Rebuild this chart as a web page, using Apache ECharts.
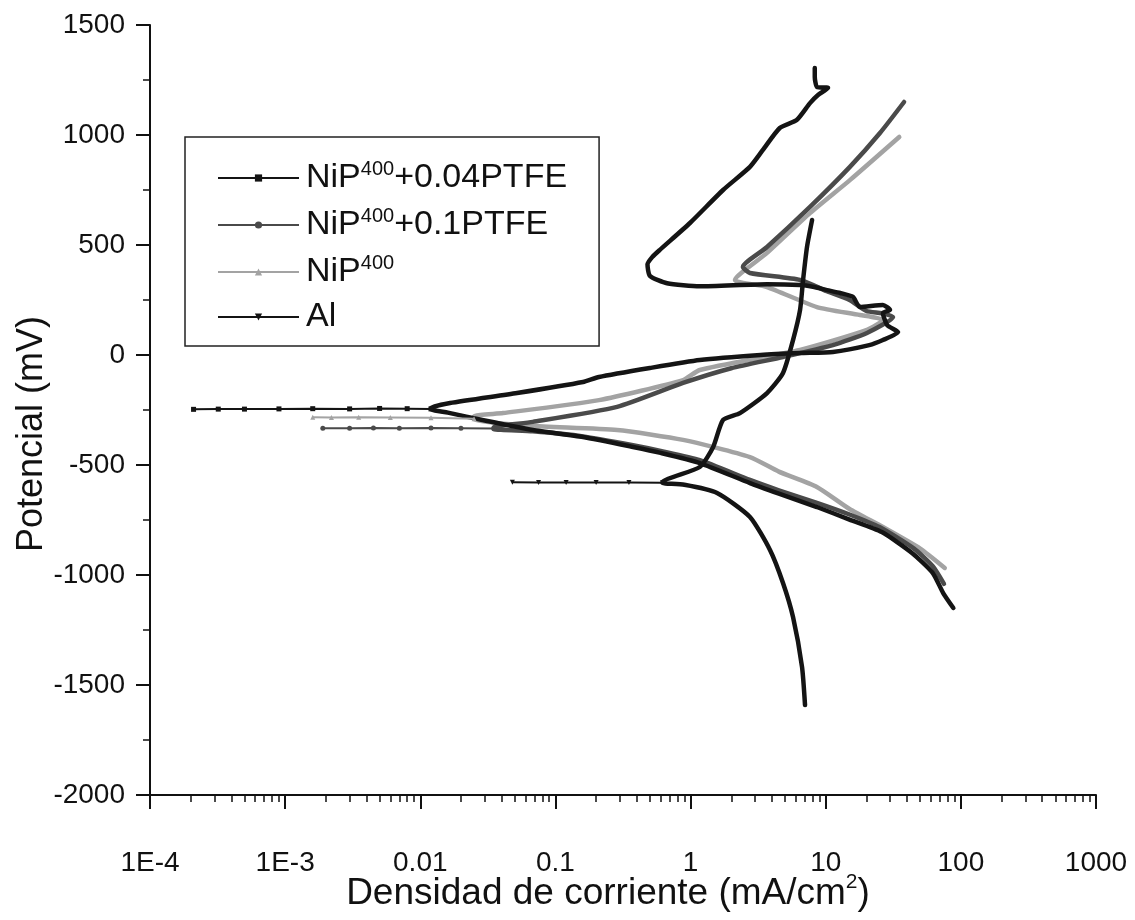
<!DOCTYPE html>
<html>
<head>
<meta charset="utf-8">
<title>Curvas de polarización</title>
<script src="https://cdn.jsdelivr.net/npm/echarts@6/dist/echarts.min.js"></script>
<style>
  html, body { margin: 0; padding: 0; background: #fff; }
  #chart { width: 1135px; height: 920px; }
</style>
</head>
<body>
<div id="chart"></div>
<script>
    // [corriente mA/cm2, potencial mV] leidos de la figura
    // cada curva: rama catodica (desde el extremo), cola en Ecorr, rama anodica
    const ptfe004Cath = [[88, -1150], [74, -1082], [62, -991], [43.5, -900], [26, -805], [15, -748], [8.6, -691], [4.5, -630], [2.75, -582], [1.17, -491], [0.6, -445], [0.375, -418], [0.16, -373], [0.068, -341], [0.03, -298], [0.016, -262], [0.012, -247]];
    const ptfe004Tail = [[0.012, -245], [0.008, -244], [0.005, -243], [0.003, -245], [0.0016, -244], [0.0009, -245], [0.0005, -246], [0.00032, -246], [0.00021, -247]];
    const ptfe004Anod = [[0.012, -240], [0.0166, -218], [0.052, -173], [0.16, -123], [0.21, -100], [0.5, -59], [1.17, -23], [3.3, 0], [6.46, 9], [11.3, 14], [21, 45], [26.5, 68], [34.3, 104], [28.5, 136], [26.5, 191], [29.9, 205], [26.5, 227], [17.9, 218], [15.9, 264], [12.8, 282], [10.2, 295], [8.05, 310], [6.46, 318], [3.68, 322], [1.17, 312], [0.67, 326], [0.5, 360], [0.48, 412], [0.52, 445], [0.59, 477], [0.99, 600], [1.74, 750], [2.75, 855], [3.43, 932], [4.57, 1032], [6.1, 1068], [7.65, 1145], [8.77, 1182], [10.4, 1214], [8.63, 1218], [8.3, 1264], [8.3, 1305]];

    const ptfe01Cath = [[75, -1040], [62, -960], [45, -880], [25, -782], [15, -725], [8.6, -672], [4.5, -615], [2.75, -568], [1.17, -478], [0.6, -436], [0.375, -410], [0.16, -370], [0.068, -347], [0.035, -337]];
    const ptfe01Tail = [[0.035, -334], [0.02, -333], [0.012, -332], [0.007, -333], [0.0045, -332], [0.003, -333], [0.0019, -333]];
    const ptfe01Anod = [[0.035, -328], [0.068, -304], [0.286, -236], [0.88, -127], [2, -60], [4.83, -9], [11.3, 45], [20.2, 100], [31.5, 173], [26, 190], [20, 200], [15, 250], [10.2, 290], [6.46, 341], [2.75, 373], [2.44, 400], [3.68, 491], [7.65, 673], [15.1, 855], [25.2, 1009], [38, 1150]];

    const nip400Cath = [[76, -968], [50, -880], [26.5, -782], [15, -700], [8.6, -600], [4.5, -530], [2.75, -464], [0.88, -386], [0.286, -341], [0.065, -322], [0.025, -295]];
    const nip400Tail = [[0.025, -290], [0.012, -285], [0.006, -284], [0.0035, -283], [0.0022, -284], [0.0016, -283]];
    const nip400Anod = [[0.025, -278], [0.041, -264], [0.21, -205], [0.88, -114], [1.17, -68], [6.46, 23], [20.2, 114], [26.5, 159], [17.9, 182], [8.6, 218], [3.68, 309], [2.13, 341], [3.68, 464], [7.65, 645], [15.1, 795], [35, 991]];

    const alCath = [[7.03, -1591], [6.68, -1418], [5.73, -1191], [4.83, -1036], [3.87, -886], [2.75, -736], [1.57, -627], [0.9, -590], [0.62, -582]];
    const alTail = [[0.62, -581], [0.35, -580], [0.2, -580], [0.12, -579], [0.075, -579], [0.048, -578]];
    const alAnod = [[0.62, -578], [1.17, -509], [1.47, -418], [1.74, -295], [2.32, -264], [3.68, -173], [4.83, -82], [5.73, 68], [6.46, 205], [6.8, 341], [7.27, 491], [7.93, 614]];

    const xTickValues = [1e-4, 1e-3, 0.01, 0.1, 1, 10, 100, 1000];
    const xTickLabels = ['1E-4', '1E-3', '0.01', '0.1', '1', '10', '100', '1000'];
    const xMinorTicks = [
        2e-4, 3e-4, 4e-4, 5e-4, 6e-4, 7e-4, 8e-4, 9e-4,
        2e-3, 3e-3, 4e-3, 5e-3, 6e-3, 7e-3, 8e-3, 9e-3,
        0.02, 0.03, 0.04, 0.05, 0.06, 0.07, 0.08, 0.09,
        0.2, 0.3, 0.4, 0.5, 0.6, 0.7, 0.8, 0.9,
        2, 3, 4, 5, 6, 7, 8, 9,
        20, 30, 40, 50, 60, 70, 80, 90,
        200, 300, 400, 500, 600, 700, 800, 900
    ];

    const legendNames = ['NiP400+0.04PTFE', 'NiP400+0.1PTFE', 'NiP400', 'Al'];
    const legendLabels = {
        'NiP400+0.04PTFE': '{a|NiP}{s|400}{a|+0.04PTFE}',
        'NiP400+0.1PTFE': '{a|NiP}{s|400}{a|+0.1PTFE}',
        'NiP400': '{a|NiP}{s|400}',
        'Al': '{a|Al}'
    };

    const FONT = '"Liberation Sans", Arial, sans-serif';

    // cola fina con simbolos (va primero para que la leyenda use su icono)
    function tailSeries(name, data, color, symbol, rotate) {
        return {
            name: name,
            type: 'line',
            data: data,
            symbol: symbol,
            symbolSize: 5,
            symbolRotate: rotate || 0,
            showSymbol: true,
            itemStyle: { color: color },
            lineStyle: { color: color, width: 2 },
            emphasis: { disabled: true },
            z: 3
        };
    }

    function mainSeries(name, cath, anod, color, z) {
        return {
            name: name,
            type: 'line',
            data: cath.concat(anod),
            symbol: 'none',
            smooth: 0.2,
            itemStyle: { color: color },
            lineStyle: { color: color, width: 4.5, cap: 'round', join: 'round' },
            emphasis: { disabled: true },
            z: z
        };
    }

    const chart = echarts.init(document.getElementById('chart'));
    chart.setOption({
        animation: false,
        backgroundColor: '#fff',
        grid: {
            left: 150,
            right: 39,
            top: 25,
            bottom: 125,
            containLabel: false,
            outerBoundsMode: 'none'
        },
        legend: {
            data: legendNames,
            orient: 'vertical',
            left: 185,
            top: 137,
            padding: [22, 32, 12, 32],
            itemGap: 11,
            itemWidth: 81,
            itemHeight: 9,
            backgroundColor: '#fff',
            borderColor: '#222',
            borderWidth: 1.5,
            borderRadius: 0,
            selectedMode: false,
            lineStyle: { width: 2 },
            formatter: function (name) {
                return legendLabels[name];
            },
            textStyle: {
                color: '#111',
                fontFamily: FONT,
                padding: [0, 0, 0, 2],
                rich: {
                    a: { fontSize: 34, lineHeight: 38, fontFamily: FONT, color: '#111' },
                    s: { fontSize: 20, lineHeight: 8, verticalAlign: 'top', fontFamily: FONT, color: '#111' }
                }
            }
        },
        xAxis: [
            {
                type: 'log',
                logBase: 10,
                min: 1e-4,
                max: 1000,
                position: 'bottom',
                name: '{a|Densidad de corriente (mA/cm}{s|2}{a|)}',
                nameLocation: 'middle',
                nameGap: 77,
                nameMoveOverlap: false,
                nameTextStyle: {
                    padding: [0, 30, 0, 0],
                    rich: {
                        a: { fontSize: 37, lineHeight: 44, fontFamily: FONT, color: '#111' },
                        s: { fontSize: 21, lineHeight: 10, verticalAlign: 'top', fontFamily: FONT, color: '#111' }
                    }
                },
                axisLine: { onZero: false, lineStyle: { color: '#111', width: 2 } },
                axisTick: { customValues: xTickValues, length: 14, lineStyle: { color: '#111', width: 2 } },
                axisLabel: {
                    customValues: xTickValues,
                    margin: 54,
                    fontSize: 28,
                    fontFamily: FONT,
                    color: '#111',
                    formatter: function (v) {
                        return xTickLabels[Math.round(Math.log10(v)) + 4];
                    }
                },
                splitLine: { show: false },
                minorTick: { show: false }
            },
            {
                type: 'log',
                logBase: 10,
                min: 1e-4,
                max: 1000,
                position: 'bottom',
                axisLine: { show: false, onZero: false },
                axisLabel: { show: false },
                axisTick: { customValues: xMinorTicks, length: 7, lineStyle: { color: '#111', width: 1.5 } },
                splitLine: { show: false }
            }
        ],
        yAxis: {
            type: 'value',
            min: -2000,
            max: 1500,
            interval: 500,
            name: 'Potencial (mV)',
            nameLocation: 'middle',
            nameGap: 100,
            nameMoveOverlap: false,
            nameTextStyle: {
                fontSize: 36,
                fontFamily: FONT,
                color: '#111',
                padding: [0, 48, 0, 0]
            },
            axisLine: { onZero: false, lineStyle: { color: '#111', width: 2 } },
            axisTick: { length: 14, lineStyle: { color: '#111', width: 2 } },
            minorTick: { show: true, splitNumber: 2, length: 7, lineStyle: { color: '#111', width: 1.5 } },
            axisLabel: {
                margin: 25,
                fontSize: 28,
                fontFamily: FONT,
                color: '#111',
                formatter: function (v) { return String(v); }
            },
            splitLine: { show: false }
        },
        series: [
            tailSeries('NiP400', nip400Tail, '#a3a3a3', 'triangle'),
            mainSeries('NiP400', nip400Cath, nip400Anod, '#a3a3a3', 2),
            tailSeries('NiP400+0.1PTFE', ptfe01Tail, '#4a4a4a', 'circle'),
            mainSeries('NiP400+0.1PTFE', ptfe01Cath, ptfe01Anod, '#4a4a4a', 2),
            tailSeries('NiP400+0.04PTFE', ptfe004Tail, '#141414', 'rect'),
            mainSeries('NiP400+0.04PTFE', ptfe004Cath, ptfe004Anod, '#141414', 2),
            tailSeries('Al', alTail, '#141414', 'triangle', 180),
            mainSeries('Al', alCath, alAnod, '#141414', 2)
        ]
    });
</script>
</body>
</html>
